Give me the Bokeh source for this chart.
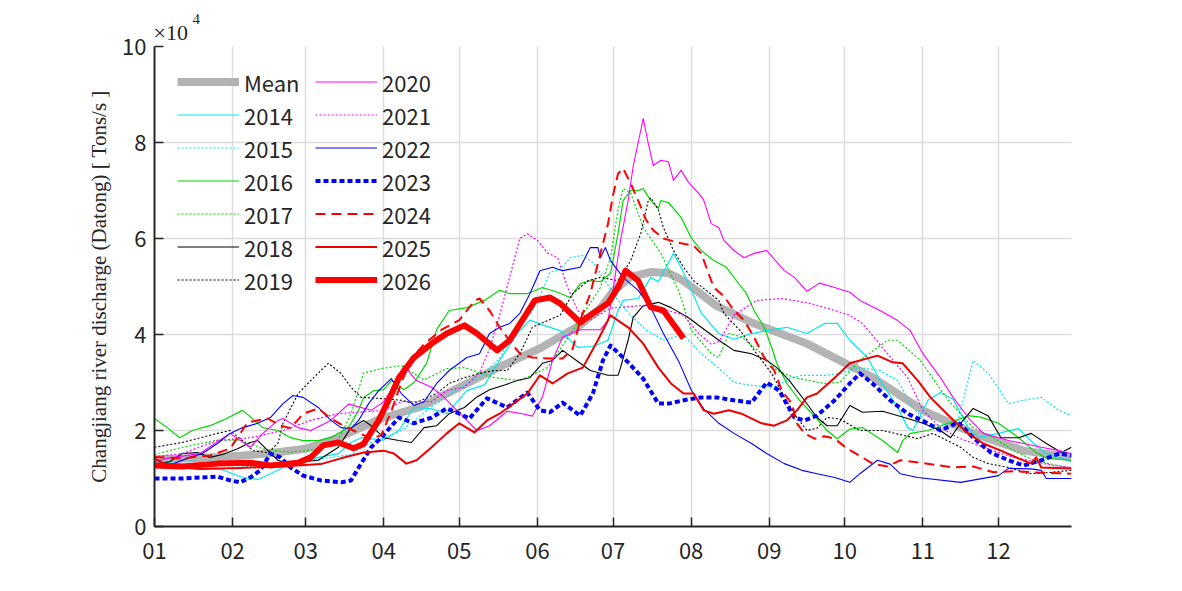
from bokeh.plotting import figure
from bokeh.models import FixedTicker, Legend, LegendItem, Range1d, Title
from bokeh.embed import file_html
from bokeh.resources import INLINE

# ---------------- data (discharge in units of 10^4, x = day of year) -------------
month_ticks = [1, 32, 61, 92, 122, 153, 183, 214, 245, 275, 306, 336]
month_labels = ["01", "02", "03", "04", "05", "06", "07", "08", "09", "10", "11", "12"]
y_ticks = [0, 2, 4, 6, 8, 10]

mean_day = [1, 16, 31, 46, 61, 74, 91, 107, 122, 137, 154, 170, 178, 183, 190, 198, 205, 211, 224, 238, 260, 286, 306, 326, 346, 365]
mean_val = [1.40, 1.42, 1.46, 1.52, 1.62, 1.85, 2.25, 2.50, 2.90, 3.30, 3.71, 4.20, 4.55, 4.90, 5.20, 5.30, 5.28, 5.12, 4.60, 4.25, 3.81, 3.11, 2.42, 1.94, 1.58, 1.44]

y2014_day = [1, 12, 19, 26, 36, 42, 47, 52, 60, 66, 74, 79, 83, 92, 98, 104, 111, 117, 125, 132, 138, 145, 150, 155, 162, 169, 175, 181, 185, 187, 193, 198, 201, 207, 210, 213, 218, 225, 231, 238, 244, 252, 260, 267, 272, 277, 284, 289, 296, 300, 302, 308, 313, 318, 324, 328, 336, 344, 350, 355, 365]
y2014_val = [1.35, 1.30, 1.20, 1.22, 1.02, 0.98, 1.10, 1.23, 1.33, 1.44, 1.52, 1.75, 1.85, 1.80, 2.00, 2.48, 2.45, 2.35, 2.83, 2.95, 3.46, 4.02, 4.30, 4.20, 4.08, 3.73, 3.75, 3.88, 4.50, 4.71, 4.75, 5.19, 5.10, 5.69, 5.40, 5.06, 4.45, 4.02, 3.90, 4.02, 4.08, 4.15, 4.02, 4.23, 4.23, 3.88, 3.52, 3.04, 2.48, 2.06, 2.00, 2.63, 2.79, 2.65, 2.06, 1.85, 1.94, 2.04, 1.73, 1.52, 1.35]

y2015_day = [1, 12, 26, 39, 52, 66, 79, 87, 92, 99, 104, 111, 117, 122, 130, 138, 142, 146, 150, 154, 158, 162, 166, 171, 175, 178, 185, 190, 196, 203, 211, 218, 225, 231, 238, 247, 254, 258, 267, 273, 281, 289, 296, 302, 308, 313, 320, 324, 326, 332, 340, 346, 353, 360, 365]
y2015_val = [1.45, 1.40, 1.30, 1.25, 1.30, 1.40, 1.50, 1.75, 1.85, 2.00, 2.20, 2.50, 2.70, 2.90, 3.10, 3.50, 3.90, 4.30, 4.40, 4.80, 5.30, 5.35, 5.60, 5.65, 5.50, 5.27, 4.71, 4.40, 4.10, 3.88, 4.00, 3.60, 3.30, 3.00, 2.94, 2.90, 3.10, 3.15, 3.15, 3.19, 3.31, 3.25, 3.04, 2.48, 2.15, 2.10, 2.21, 3.04, 3.46, 3.19, 2.56, 2.63, 2.69, 2.42, 2.31]

y2016_day = [1, 6, 11, 16, 23, 28, 36, 44, 50, 55, 60, 66, 71, 78, 82, 84, 88, 92, 95, 100, 104, 109, 113, 118, 125, 132, 138, 142, 149, 155, 161, 166, 170, 174, 178, 182, 185, 187, 190, 193, 195, 198, 201, 202, 205, 210, 214, 218, 223, 228, 232, 236, 239, 243, 246, 248, 252, 257, 263, 268, 272, 277, 282, 290, 296, 298, 301, 308, 316, 324, 329, 336, 344, 350, 355, 365]
y2016_val = [2.25, 2.06, 1.85, 2.00, 2.10, 2.21, 2.42, 2.06, 2.00, 1.85, 1.79, 1.79, 1.85, 2.06, 2.42, 2.69, 2.83, 2.85, 3.04, 2.85, 3.00, 3.40, 4.10, 4.50, 4.56, 4.71, 4.92, 4.85, 4.85, 4.98, 4.88, 4.77, 5.06, 5.12, 5.10, 5.27, 6.10, 6.79, 7.00, 7.00, 7.04, 6.79, 6.63, 6.79, 6.75, 6.44, 6.02, 5.75, 5.54, 5.40, 5.12, 4.85, 4.50, 4.15, 3.73, 3.40, 2.98, 2.63, 2.30, 2.00, 1.83, 2.03, 2.06, 1.79, 1.54, 1.79, 1.94, 2.00, 2.15, 2.31, 2.28, 2.15, 1.85, 1.58, 1.42, 1.38]

y2017_day = [1, 12, 26, 35, 45, 55, 65, 74, 79, 84, 92, 99, 108, 117, 124, 136, 146, 157, 167, 178, 182, 185, 187, 190, 195, 202, 209, 214, 222, 225, 229, 234, 242, 248, 255, 267, 273, 281, 292, 296, 305, 316, 326, 334, 342, 350, 365]
y2017_val = [1.50, 1.65, 1.80, 1.80, 1.60, 1.55, 1.60, 1.80, 2.35, 3.20, 3.30, 3.35, 3.05, 3.29, 3.31, 3.10, 3.04, 3.31, 4.08, 4.98, 5.60, 6.60, 7.04, 6.95, 6.23, 5.69, 4.92, 4.10, 3.60, 3.52, 4.02, 3.95, 3.60, 3.25, 3.10, 2.98, 3.00, 3.46, 3.88, 3.88, 3.46, 2.63, 2.06, 1.85, 1.58, 1.38, 1.21]

y2018_day = [1, 7, 12, 18, 23, 28, 34, 39, 42, 46, 50, 55, 60, 66, 74, 79, 84, 87, 92, 98, 103, 108, 113, 118, 124, 129, 134, 140, 145, 150, 155, 159, 163, 170, 174, 181, 185, 186, 189, 191, 195, 201, 206, 213, 218, 225, 231, 238, 244, 248, 253, 259, 264, 268, 272, 277, 282, 290, 300, 306, 313, 317, 321, 326, 332, 337, 344, 349, 355, 361, 365]
y2018_val = [1.30, 1.35, 1.52, 1.54, 1.44, 1.50, 1.62, 1.75, 1.79, 1.58, 1.38, 1.30, 1.35, 1.38, 1.65, 2.06, 2.21, 2.10, 1.85, 1.79, 1.75, 2.06, 2.10, 2.35, 2.48, 2.70, 2.85, 2.95, 3.04, 3.10, 3.40, 3.46, 3.67, 3.40, 3.25, 3.15, 3.15, 3.31, 3.88, 4.35, 4.60, 4.67, 4.56, 4.35, 4.15, 3.88, 3.67, 3.60, 3.46, 3.31, 3.04, 2.63, 2.27, 2.10, 2.10, 2.52, 2.38, 2.40, 2.25, 2.15, 2.00, 1.85, 2.15, 2.46, 2.30, 1.85, 1.85, 1.94, 1.73, 1.54, 1.65]

y2019_day = [1, 12, 26, 31, 36, 40, 46, 50, 52, 58, 63, 70, 75, 79, 83, 90, 99, 104, 113, 118, 124, 130, 136, 141, 146, 151, 157, 162, 167, 173, 178, 185, 190, 194, 197, 198, 201, 203, 207, 211, 215, 220, 225, 227, 234, 240, 246, 251, 256, 260, 264, 268, 273, 281, 290, 304, 310, 321, 326, 332, 340, 348, 355, 365]
y2019_val = [1.65, 1.75, 1.94, 2.00, 1.79, 1.58, 1.54, 1.73, 2.15, 2.77, 3.04, 3.40, 3.19, 2.90, 2.69, 2.67, 2.63, 2.56, 2.77, 2.98, 3.10, 3.19, 3.25, 3.25, 3.60, 4.15, 4.29, 4.40, 4.85, 5.12, 5.19, 5.12, 5.54, 6.10, 6.79, 6.85, 6.60, 6.23, 5.75, 5.40, 5.12, 4.92, 4.71, 4.44, 4.05, 3.60, 3.19, 2.69, 2.27, 2.00, 2.05, 2.27, 2.24, 2.00, 2.00, 1.83, 1.94, 1.65, 1.44, 1.31, 1.23, 1.10, 1.12, 1.17]

y2020_day = [1, 6, 19, 31, 39, 44, 50, 52, 58, 63, 71, 78, 87, 92, 98, 100, 105, 111, 116, 121, 125, 129, 134, 141, 147, 151, 155, 159, 163, 170, 178, 181, 183, 186, 189, 191, 193, 195, 197, 199, 202, 205, 207, 210, 213, 217, 219, 222, 225, 227, 231, 235, 239, 244, 251, 255, 260, 265, 271, 277, 281, 289, 296, 301, 306, 313, 318, 324, 330, 340, 346, 353, 360, 365]
y2020_val = [1.35, 1.42, 1.52, 1.94, 1.65, 1.94, 2.21, 2.25, 2.06, 2.00, 2.21, 2.55, 2.42, 2.60, 3.10, 3.35, 3.04, 2.90, 2.69, 2.42, 2.21, 2.00, 2.10, 2.40, 2.35, 2.30, 2.70, 3.46, 3.95, 4.10, 4.10, 4.29, 4.92, 5.96, 6.79, 7.50, 8.00, 8.50, 7.98, 7.52, 7.63, 7.60, 7.21, 7.42, 7.17, 6.94, 6.80, 6.31, 6.23, 5.96, 5.75, 5.60, 5.69, 5.75, 5.33, 5.19, 4.90, 5.07, 4.98, 4.88, 4.71, 4.50, 4.29, 4.08, 3.60, 3.10, 2.69, 2.27, 1.94, 1.79, 1.73, 1.65, 1.58, 1.52]

y2021_day = [1, 12, 26, 39, 52, 63, 74, 92, 99, 111, 117, 124, 130, 134, 138, 142, 146, 149, 153, 157, 161, 165, 169, 174, 182, 194, 202, 211, 217, 222, 225, 231, 240, 250, 261, 271, 277, 282, 292, 300, 306, 313, 320, 326, 334, 342, 358, 365]
y2021_val = [1.45, 1.52, 1.79, 1.85, 2.00, 2.21, 2.35, 2.42, 2.60, 2.60, 2.83, 2.90, 3.20, 3.70, 4.40, 5.20, 6.00, 6.10, 5.96, 5.70, 5.60, 4.98, 4.50, 4.30, 4.55, 4.60, 4.55, 4.40, 4.02, 3.80, 3.85, 4.40, 4.71, 4.75, 4.65, 4.50, 4.40, 4.23, 3.60, 3.10, 2.42, 2.06, 1.85, 1.73, 1.58, 1.44, 1.27, 1.23]

y2022_day = [1, 7, 15, 20, 26, 31, 36, 42, 47, 52, 56, 60, 66, 71, 75, 79, 82, 86, 90, 95, 99, 104, 108, 113, 118, 125, 130, 134, 138, 142, 146, 150, 154, 159, 163, 170, 174, 177, 178, 180, 182, 187, 193, 198, 203, 209, 214, 219, 225, 231, 238, 244, 251, 258, 264, 271, 277, 281, 288, 293, 297, 304, 321, 336, 340, 349, 353, 355, 365]
y2022_val = [1.25, 1.28, 1.44, 1.52, 1.73, 1.94, 2.06, 2.15, 2.27, 2.56, 2.73, 2.69, 2.48, 2.21, 2.06, 2.04, 2.21, 2.56, 2.83, 3.08, 2.77, 2.52, 2.60, 2.98, 3.25, 3.52, 3.60, 4.02, 4.15, 4.23, 4.44, 4.85, 5.33, 5.40, 5.33, 5.40, 5.81, 5.81, 5.60, 5.81, 5.54, 5.19, 4.92, 4.56, 4.02, 3.45, 2.85, 2.45, 2.15, 1.94, 1.73, 1.52, 1.31, 1.17, 1.10, 1.02, 0.92, 1.10, 1.38, 1.30, 1.10, 1.02, 0.92, 1.06, 1.21, 1.20, 1.17, 1.00, 1.00]

y2023_day = [1, 12, 19, 26, 31, 35, 39, 43, 47, 51, 55, 60, 67, 75, 79, 83, 87, 91, 98, 104, 111, 117, 122, 126, 133, 141, 149, 154, 158, 163, 170, 175, 179, 182, 189, 195, 201, 205, 211, 218, 224, 231, 238, 244, 249, 255, 259, 264, 271, 277, 281, 286, 293, 300, 308, 313, 320, 326, 333, 340, 346, 353, 360, 365]
y2023_val = [1.00, 1.00, 1.02, 1.04, 0.96, 0.92, 1.02, 1.17, 1.52, 1.44, 1.23, 1.06, 0.96, 0.92, 0.96, 1.31, 1.65, 1.85, 2.27, 2.15, 2.27, 2.46, 2.35, 2.25, 2.67, 2.48, 2.79, 2.42, 2.38, 2.58, 2.31, 2.77, 3.46, 3.77, 3.42, 3.08, 2.56, 2.56, 2.63, 2.69, 2.69, 2.63, 2.58, 3.00, 2.83, 2.27, 2.21, 2.31, 2.63, 2.98, 3.19, 2.98, 2.63, 2.35, 2.15, 2.00, 2.17, 1.85, 1.54, 1.38, 1.27, 1.38, 1.52, 1.48]

y2024_day = [1, 12, 23, 31, 38, 46, 51, 55, 60, 66, 71, 76, 82, 87, 91, 95, 99, 103, 108, 115, 122, 128, 130, 134, 138, 141, 146, 151, 158, 163, 167, 170, 174, 177, 181, 183, 185, 187, 190, 193, 196, 199, 203, 210, 215, 218, 223, 227, 231, 235, 239, 243, 247, 250, 254, 256, 259, 263, 267, 271, 276, 281, 286, 292, 297, 305, 313, 318, 326, 334, 342, 353, 365]
y2024_val = [1.45, 1.42, 1.48, 1.62, 2.17, 2.25, 2.10, 2.05, 2.35, 2.46, 2.25, 2.10, 1.95, 1.83, 1.90, 2.40, 3.00, 3.50, 3.80, 4.10, 4.30, 4.70, 4.75, 4.50, 4.15, 3.94, 3.60, 3.52, 3.50, 3.50, 3.70, 4.30, 4.85, 5.48, 6.30, 6.90, 7.35, 7.46, 7.15, 6.79, 6.40, 6.17, 6.00, 5.90, 5.85, 5.69, 4.98, 4.80, 4.50, 4.30, 3.94, 3.52, 3.25, 2.83, 2.56, 2.15, 1.94, 1.83, 1.88, 1.83, 1.62, 1.47, 1.31, 1.25, 1.38, 1.33, 1.27, 1.23, 1.25, 1.13, 1.15, 1.12, 1.10]

y2025_day = [1, 7, 19, 35, 51, 67, 75, 84, 92, 96, 101, 105, 111, 117, 122, 128, 133, 138, 144, 149, 154, 159, 165, 171, 177, 182, 189, 195, 201, 206, 211, 215, 219, 223, 229, 234, 242, 247, 252, 256, 260, 264, 271, 277, 288, 294, 298, 304, 309, 317, 324, 330, 337, 344, 349, 351, 353, 365]
y2025_val = [1.42, 1.25, 1.20, 1.22, 1.25, 1.30, 1.42, 1.54, 1.58, 1.52, 1.31, 1.38, 1.65, 1.94, 2.15, 1.96, 2.21, 2.35, 2.58, 2.77, 3.15, 2.98, 3.19, 3.31, 3.88, 4.40, 4.15, 3.81, 3.31, 2.98, 2.77, 2.77, 2.42, 2.35, 2.42, 2.35, 2.15, 2.10, 2.21, 2.42, 2.69, 2.77, 3.10, 3.40, 3.56, 3.42, 3.40, 3.04, 2.69, 2.27, 1.94, 1.73, 1.58, 1.42, 1.31, 1.44, 1.23, 1.21]

y2026_day = [1, 12, 26, 39, 47, 58, 63, 68, 74, 80, 84, 90, 95, 98, 104, 111, 117, 124, 129, 137, 142, 152, 158, 162, 170, 175, 181, 185, 188, 193, 198, 203, 211]
y2026_val = [1.27, 1.25, 1.31, 1.33, 1.27, 1.33, 1.44, 1.69, 1.75, 1.63, 1.72, 2.21, 2.75, 3.10, 3.52, 3.81, 4.02, 4.19, 4.02, 3.67, 3.88, 4.71, 4.77, 4.65, 4.25, 4.44, 4.65, 4.98, 5.33, 5.12, 4.57, 4.50, 3.92]

series_names = ["Mean", "2014", "2015", "2016", "2017", "2018", "2019",
                "2020", "2021", "2022", "2023", "2024", "2025", "2026"]
series_days = [mean_day, y2014_day, y2015_day, y2016_day, y2017_day, y2018_day, y2019_day,
               y2020_day, y2021_day, y2022_day, y2023_day, y2024_day, y2025_day, y2026_day]
series_vals = [mean_val, y2014_val, y2015_val, y2016_val, y2017_val, y2018_val, y2019_val,
               y2020_val, y2021_val, y2022_val, y2023_val, y2024_val, y2025_val, y2026_val]

# ---------------- styles ----------------
styles = {
    "Mean": dict(line_color="#b3b3b3", line_width=8, line_dash="solid"),
    "2014": dict(line_color="#00e8f0", line_width=1.2, line_dash="solid"),
    "2015": dict(line_color="#00e8f0", line_width=1.2, line_dash="2 2"),
    "2016": dict(line_color="#00d800", line_width=1.2, line_dash="solid"),
    "2017": dict(line_color="#00d800", line_width=1.2, line_dash="2 2"),
    "2018": dict(line_color="#000000", line_width=1.1, line_dash="solid"),
    "2019": dict(line_color="#000000", line_width=1.1, line_dash="2 2"),
    "2020": dict(line_color="#ff00ff", line_width=1.1, line_dash="solid"),
    "2021": dict(line_color="#ff00ff", line_width=1.2, line_dash="2 2"),
    "2022": dict(line_color="#0000ff", line_width=1.1, line_dash="solid"),
    "2023": dict(line_color="#0000ff", line_width=4, line_dash="5 3"),
    "2024": dict(line_color="#ff0000", line_width=2, line_dash="10 6"),
    "2025": dict(line_color="#ee0000", line_width=2, line_dash="solid"),
    "2026": dict(line_color="#ff0000", line_width=6, line_dash="solid"),
}

TICK_FONT = "Noto Sans CJK SC"
DARK = "#262626"

p = figure(frame_width=917, frame_height=480,
           min_border_left=154, min_border_right=95, min_border_top=46, min_border_bottom=49,
           x_range=Range1d(1, 365), y_range=Range1d(0, 10),
           output_backend="svg", toolbar_location=None, background_fill_color="white")
p.outline_line_color = None

# exponent marker "×10" with a raised "4", as two left-aligned titles above the frame
p.add_layout(Title(text="×10", align="left", offset=-1, standoff=3,
                   text_font="Liberation Serif", text_font_style="normal",
                   text_font_size="22px", text_color=DARK), "above")
p.add_layout(Title(text="4", align="left", offset=38, standoff=-14,
                   text_font="Liberation Serif", text_font_style="normal",
                   text_font_size="15px", text_color=DARK), "above")

renderers = {}
for name, d, v in zip(series_names, series_days, series_vals):
    st = styles[name]
    r = p.line(d, v, line_color=st["line_color"], line_width=st["line_width"],
               line_dash=st["line_dash"], line_join="round")
    renderers[name] = r

# axes
p.xaxis.ticker = FixedTicker(ticks=month_ticks)
p.xaxis.major_label_overrides = {t: l for t, l in zip(month_ticks, month_labels)}
p.yaxis.ticker = FixedTicker(ticks=y_ticks)
p.yaxis.major_label_overrides = {t: str(t) for t in y_ticks}
for ax in (p.xaxis[0], p.yaxis[0]):
    ax.axis_line_color = DARK
    ax.axis_line_width = 2
    ax.major_tick_line_color = DARK
    ax.major_tick_line_width = 1.5
    ax.major_tick_in = 9
    ax.major_tick_out = 0
    ax.minor_tick_line_color = None
    ax.major_label_text_font = TICK_FONT
    ax.major_label_text_font_size = "22px"
    ax.major_label_text_color = DARK
p.xaxis.major_label_standoff = 16
p.yaxis.major_label_standoff = 8
p.yaxis.axis_label = "Changjiang river discharge (Datong) [ Tons/s ]"
p.yaxis.axis_label_text_font = "Liberation Serif"
p.yaxis.axis_label_text_font_style = "normal"
p.yaxis.axis_label_text_font_size = "21px"
p.yaxis.axis_label_text_color = DARK
p.yaxis.axis_label_standoff = 8

p.xgrid.ticker = FixedTicker(ticks=month_ticks)
p.ygrid.ticker = FixedTicker(ticks=y_ticks)
for g in (p.xgrid[0], p.ygrid[0]):
    g.grid_line_color = "#dcdcdc"
    g.grid_line_width = 1.5

# legends (two columns)
def make_legend(names, xoff):
    items = [LegendItem(label=n, renderers=[renderers[n]]) for n in names]
    lg = Legend(items=items, location=(xoff, 230), orientation="vertical",
                glyph_width=62, glyph_height=33, label_height=33, spacing=0,
                padding=0, margin=0, label_standoff=5,
                border_line_color=None, background_fill_alpha=0,
                label_text_font=TICK_FONT, label_text_font_size="22px",
                label_text_color=DARK)
    return lg

p.add_layout(make_legend(series_names[:7], 23))
p.add_layout(make_legend(series_names[7:], 161))

open("out.html", "w").write(file_html(p, INLINE))
